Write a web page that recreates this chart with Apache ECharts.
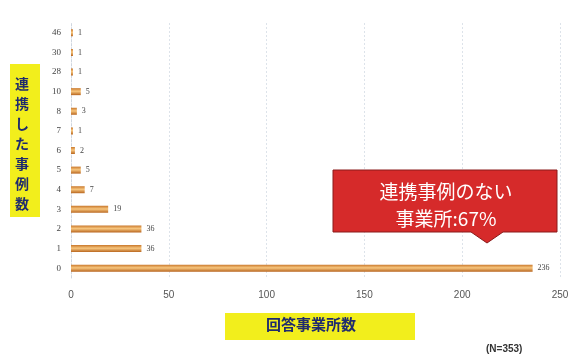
<!DOCTYPE html>
<html><head><meta charset="utf-8">
<script src="https://cdn.jsdelivr.net/npm/echarts@6/dist/echarts.min.js"></script>
<style>html,body{margin:0;padding:0;background:#fff}#c{width:574px;height:359px}</style>
</head><body><div id="c"></div>
<script>
const categories = ['0','1','2','3','4','5','6','7','8','10','28','30','46'];
const values = [236,36,36,19,7,5,2,1,3,5,1,1,1];
const xTicks = [0,50,100,150,200,250];
const yTitle = '連携した事例数';
const xTitle = '回答事業所数';
const note = '(N=353)';
const calloutLines = ['連携事例のない','事業所:67%'];

const chart = echarts.init(document.getElementById('c'));
chart.setOption({
  backgroundColor:'#fff',
  animation:false,
  grid:{left:71,right:14,top:23,bottom:81},
  xAxis:{type:'value',min:xTicks[0],max:xTicks[xTicks.length-1],interval:50,
    axisLine:{show:false},axisTick:{show:false},
    axisLabel:{color:'#555',fontSize:10,fontFamily:'Liberation Sans',margin:12},
    splitLine:{show:true,lineStyle:{color:'#dde3ea',type:[2,2]}}},
  yAxis:{type:'category',data:categories,
    axisLine:{show:true,lineStyle:{color:'#cfd6df',type:[2,2]}},axisTick:{show:false},
    axisLabel:{color:'#444',fontSize:9,fontFamily:'Liberation Serif',margin:10}},
  series:[{type:'bar',data:values,barWidth:7,
    itemStyle:{color:new echarts.graphic.LinearGradient(0,0,0,1,[
      {offset:0,color:'#c9782c'},{offset:0.45,color:'#f7c67e'},{offset:1,color:'#b8651e'}])},
    label:{show:true,position:'right',distance:5,color:'#444',fontSize:8,fontFamily:'Liberation Serif'}}],
  graphic:[
    {type:'rect',z:100,left:10,top:64,shape:{width:30,height:153},style:{fill:'#f2ee1c'}},
    {type:'text',z:101,left:15,top:74,style:{text:yTitle.split('').join('\n'),font:'bold 14px "Noto Sans CJK JP"',fill:'#1f2b6e',lineHeight:20}},
    {type:'rect',z:100,left:225,top:313,shape:{width:190,height:27},style:{fill:'#f2ee1c'}},
    {type:'text',z:101,left:266,top:317,style:{text:xTitle,font:'bold 15px "Noto Sans CJK JP"',fill:'#1f2b6e'}},
    {type:'text',z:101,left:486,top:344,style:{text:note,font:'bold 10px "Liberation Sans"',fill:'#333'}},
    {type:'polygon',z:100,shape:{points:[[333,170],[557,170],[557,232],[503,232],[487,243],[471,232],[333,232]]},
      style:{fill:'#d62a2a',stroke:'#8a1a1a',lineWidth:1}},
    {type:'text',z:101,x:446,y:178,style:{text:calloutLines.join('\n'),font:'19px "Noto Sans CJK JP"',fill:'#fff',lineHeight:27,align:'center'}}
  ]
});
</script></body></html>
